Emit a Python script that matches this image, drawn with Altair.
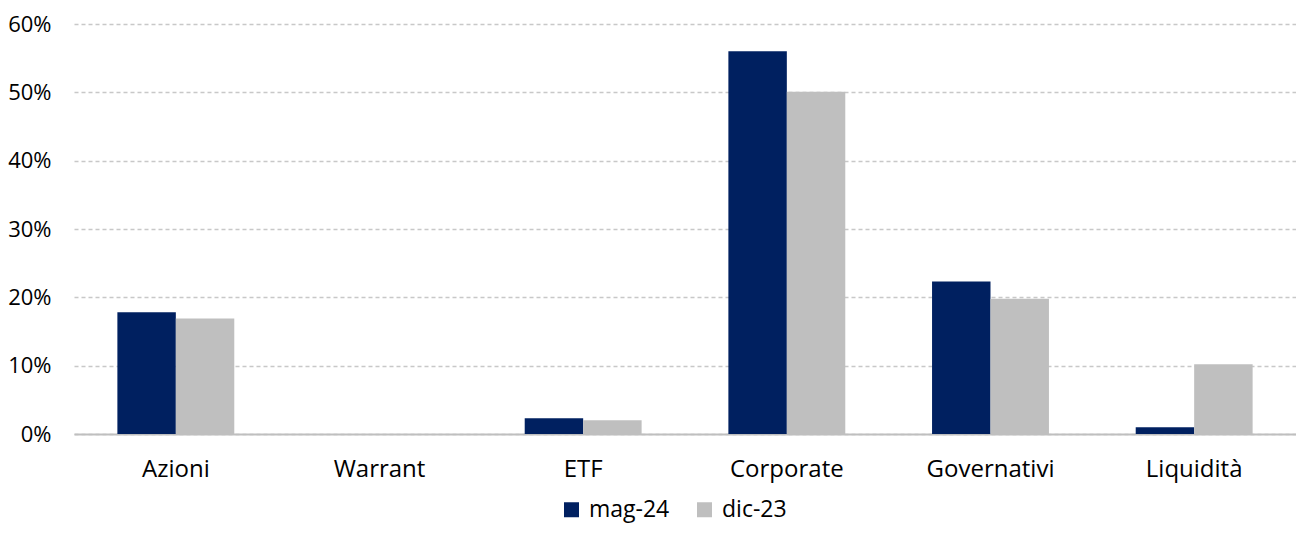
import altair as alt
import pandas as pd

categories = ["Azioni", "Warrant", "ETF", "Corporate", "Governativi", "Liquidità"]
series = ["mag-24", "dic-23"]
mag24 = [0.178, 0.0, 0.023, 0.560, 0.223, 0.010]
dic23 = [0.169, 0.0, 0.020, 0.501, 0.198, 0.102]
colors = ["#002060", "#bfbfbf"]

rows = []
for c, a, b in zip(categories, mag24, dic23):
    rows.append({"cat": c, "serie": series[0], "val": a})
    rows.append({"cat": c, "serie": series[1], "val": b})
df = pd.DataFrame(rows)

FONT = "Open Sans"

chart = alt.Chart(df).mark_bar().encode(
    x=alt.X("cat:N", sort=categories, title=None,
            scale=alt.Scale(paddingInner=0.426, paddingOuter=0.213),
            axis=alt.Axis(labelAngle=0, labelFontSize=24, labelFont=FONT, labelColor="#000000",
                          labelPadding=23, ticks=False, domainColor="#bfbfbf", domainWidth=2)),
    xOffset=alt.XOffset("serie:N", sort=series, scale=alt.Scale(paddingInner=0, paddingOuter=0)),
    y=alt.Y("val:Q", title=None,
            scale=alt.Scale(domain=[0, 0.6], nice=False),
            axis=alt.Axis(format=".0%", values=[0, 0.1, 0.2, 0.3, 0.4, 0.5, 0.6],
                          labelFontSize=22, labelFont=FONT, labelColor="#000000",
                          labelPadding=23, ticks=False, domain=False,
                          gridColor="#c8c8c8", gridDash=[4, 3], gridWidth=1.3)),
    color=alt.Color("serie:N", sort=series, title=None,
                    scale=alt.Scale(domain=series, range=colors),
                    legend=alt.Legend(orient="none", legendX=486, legendY=474, direction="horizontal",
                                      symbolType="square", symbolSize=225, symbolStrokeWidth=0,
                                      labelFontSize=23, labelFont=FONT, labelColor="#000000",
                                      labelOffset=6, columnPadding=23)),
).properties(
    width=1222, height=410,
    autosize=alt.AutoSizeParams(type="none"),
    padding={"left": 66, "top": 16, "right": 0, "bottom": 97},
).configure_view(stroke=None).configure_axisX(grid=False)

chart.save("out.html", embed_options={"renderer": "svg", "actions": False})
